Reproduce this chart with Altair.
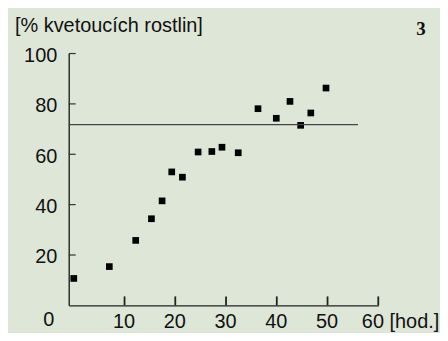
import altair as alt
import pandas as pd

# data
hours = [0, 7.0, 12.2, 15.3, 17.4, 19.3, 21.4, 24.5, 27.2, 29.2, 32.4, 36.3, 39.9, 42.6, 44.7, 46.7, 49.7]
flowering = [10.7, 15.4, 25.8, 34.4, 41.5, 53.0, 50.9, 60.9, 61.1, 62.8, 60.6, 78.1, 74.3, 81.0, 71.5, 76.4, 86.3]
ref_level = [71.8]
ref_end = [56]
x_ticks = [10, 20, 30, 40, 50, 60]
y_ticks = [20, 40, 60, 80, 100]
y_title = "[% kvetoucích rostlin]"
x_unit = "[hod.]"
panel_label = "3"

BG = "#dde6d7"
FONT = "Liberation Sans"
W, H = 311, 253

pts_df = pd.DataFrame({"h": hours, "p": flowering})
ref_df = pd.DataFrame({"y": ref_level, "xe": ref_end})
xt_df = pd.DataFrame({"v": x_ticks})
yt_df = pd.DataFrame({"v": y_ticks})

xscale = alt.Scale(domain=[-1, 60], nice=False, zero=False)
yscale = alt.Scale(domain=[0, 100], nice=False)

points = alt.Chart(pts_df).mark_point(
    shape="square", filled=True, size=45, color="#000000", opacity=1
).encode(
    x=alt.X("h:Q", scale=xscale, title=None,
            axis=alt.Axis(values=x_ticks, ticks=False, tickSize=0, grid=False,
                          labelFont=FONT, labelFontSize=20, labelColor="#111111",
                          labelPadding=6, domainColor="#222222", domainWidth=1.4,
                          labelExpr="datum.value == 60 ? '60 [hod.]' : datum.label",
                          labelAlign={"condition": {"test": "datum.value == 60", "value": "left"}, "value": "center"},
                          labelOffset={"condition": {"test": "datum.value == 60", "value": -17}, "value": -1})),
    y=alt.Y("p:Q", scale=yscale, title=None,
            axis=alt.Axis(values=y_ticks, ticks=False, tickSize=0, grid=False,
                          labelFont=FONT, labelFontSize=20, labelColor="#111111",
                          labelPadding=12, labelOffset=2,
                          domainColor="#222222", domainWidth=1.4)),
)

ref_line = alt.Chart(ref_df).mark_rule(color="#444444", strokeWidth=1.3).encode(
    x=alt.X("xe:Q", scale=xscale),
    x2=alt.value(0),
    y=alt.Y("y:Q", scale=yscale),
)

xt = alt.Chart(xt_df).mark_rule(color="#222222", strokeWidth=1.8).encode(
    x=alt.X("v:Q", scale=xscale),
    y=alt.value(H - 9),
    y2=alt.value(H),
)

yt = alt.Chart(yt_df).mark_rule(color="#333333", strokeWidth=1.2).encode(
    y=alt.Y("v:Q", scale=yscale),
    x=alt.value(0),
    x2=alt.value(7),
)

title_txt = alt.Chart(pd.DataFrame({"t": [y_title]})).mark_text(
    align="left", baseline="alphabetic", font=FONT, fontSize=20, color="#111111"
).encode(x=alt.value(-54), y=alt.value(-22), text="t:N")

zero_txt = alt.Chart(pd.DataFrame({"t": ["0"]})).mark_text(
    align="center", baseline="alphabetic", font=FONT, fontSize=20, color="#111111"
).encode(x=alt.value(-20), y=alt.value(274), text="t:N")

panel_txt = alt.Chart(pd.DataFrame({"t": [panel_label]})).mark_text(
    align="center", baseline="alphabetic", font="Liberation Serif", fontSize=19,
    fontWeight="bold", color="#111111"
).encode(x=alt.value(354), y=alt.value(-19), text="t:N")

chart = alt.layer(points, ref_line, xt, yt, title_txt, zero_txt, panel_txt).properties(
    width=W, height=H,
    autosize=alt.AutoSizeParams(type="none"),
    padding={"left": 61, "top": 45, "right": 62, "bottom": 27},
    background=BG,
).configure_view(stroke=None)

chart.save("out.html", embed_options={"renderer": "svg", "actions": False})
